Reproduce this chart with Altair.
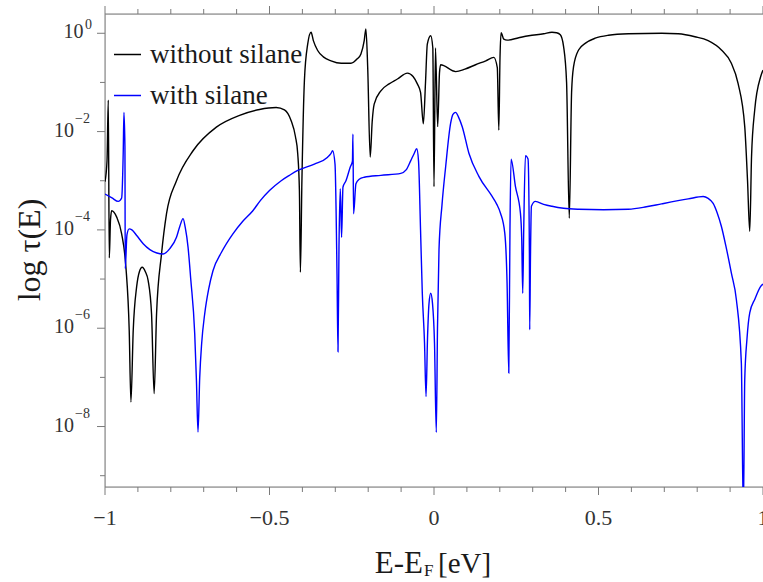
import altair as alt
import pandas as pd

# ---------------- data ----------------
series_names = ["without silane", "with silane"]
series_colors = ["#000000", "#0000ff"]

# energy E-E_F [eV] and log10 of transmission, "without silane"
E_without = [-1.0, -0.9939, -0.99, -0.987, -0.9833, -0.9797, -0.9645, -0.9494, -0.9364, -0.9264,
             -0.9212, -0.9142, -0.9039, -0.8955, -0.887, -0.8773, -0.8688, -0.8585, -0.8506, -0.8433,
             -0.8282, -0.813, -0.7827, -0.7324, -0.6615, -0.5909, -0.5303, -0.4797, -0.4545, -0.4342,
             -0.4212, -0.4142, -0.4091, -0.4061, -0.4015, -0.3939, -0.3839, -0.3736, -0.3667, -0.3536,
             -0.3364, -0.313, -0.2818, -0.2524, -0.2333, -0.2221, -0.2121, -0.207, -0.2015, -0.1939,
             -0.1879, -0.1818, -0.1615, -0.1364, -0.1112, -0.0809, -0.0636, -0.0506, -0.0409, -0.0324,
             -0.0258, -0.0203, -0.01, -0.0036, 0.0, 0.0045, 0.0112, 0.0167, 0.0203, 0.0658,
             0.0939, 0.1264, 0.1576, 0.1818, 0.1924, 0.197, 0.2006, 0.2039, 0.2121, 0.2221,
             0.2576, 0.2879, 0.3333, 0.3585, 0.3727, 0.3839, 0.3939, 0.403, 0.4112, 0.4182,
             0.4242, 0.4394, 0.4606, 0.49, 0.5303, 0.5909, 0.6918, 0.7424, 0.793, 0.8333,
             0.8736, 0.903, 0.9242, 0.9445, 0.953, 0.9597, 0.9652, 0.9748, 0.993, 1.0]
logT_without = [-3.02, -2.6, -1.36, -4.57, -3.8, -3.61, -3.74, -4.08, -4.76, -6.04,
                -7.5, -6.04, -5.16, -4.85, -4.76, -4.85, -5.03, -5.71, -7.33, -5.71,
                -4.49, -3.67, -3.0, -2.39, -1.91, -1.67, -1.55, -1.51, -1.56, -1.78,
                -2.1, -2.45, -3.2, -4.86, -3.0, -0.96, -0.22, 0.02, -0.15, -0.35,
                -0.48, -0.56, -0.61, -0.61, -0.52, -0.42, -0.15, 0.09, -0.7, -2.52,
                -1.8, -1.44, -1.17, -1.03, -0.93, -0.81, -0.88, -1.03, -1.2, -1.84,
                -1.0, -0.22, -0.05, -0.3, -3.12, -0.3, -1.9, -0.8, -0.64, -0.78,
                -0.73, -0.64, -0.56, -0.49, -0.7, -1.97, -0.5, 0.01, -0.12, -0.14,
                -0.09, -0.05, -0.01, 0.02, 0.01, -0.03, -0.27, -1.0, -3.76, -1.2,
                -0.68, -0.34, -0.2, -0.1, -0.04, -0.01, 0.0, -0.01, -0.07, -0.15,
                -0.34, -0.6, -1.02, -1.9, -3.0, -4.03, -2.5, -1.56, -0.88, -0.75]

# energy and log10 of transmission, "with silane"
E_with = [-1.0, -0.9788, -0.9597, -0.9494, -0.9445, -0.9424, -0.9394, -0.9385, -0.9333, -0.9264,
          -0.9182, -0.903, -0.8839, -0.8636, -0.8424, -0.8233, -0.803, -0.7827, -0.7727, -0.7627,
          -0.7561, -0.7476, -0.7394, -0.7273, -0.7221, -0.7173, -0.7121, -0.7061, -0.697, -0.6848,
          -0.6718, -0.6455, -0.6112, -0.5818, -0.5506, -0.5273, -0.5, -0.4645, -0.4394, -0.4142,
          -0.3636, -0.3233, -0.3136, -0.3082, -0.3009, -0.2948, -0.2918, -0.2888, -0.2848, -0.2809,
          -0.2767, -0.2676, -0.2545, -0.2479, -0.2464, -0.2445, -0.2373, -0.2273, -0.2121, -0.1615,
          -0.1009, -0.0848, -0.0706, -0.0606, -0.0524, -0.047, -0.0409, -0.0355, -0.0288, -0.0242,
          -0.0197, -0.0152, -0.01, -0.0045, 0.0015, 0.007, 0.0106, 0.0152, 0.0242, 0.0355,
          0.0506, 0.0576, 0.0658, 0.0742, 0.0858, 0.1061, 0.1364, 0.1767, 0.1909, 0.2021,
          0.2152, 0.2221, 0.2273, 0.2309, 0.2342, 0.2476, 0.2627, 0.2667, 0.2697, 0.2727,
          0.2779, 0.2858, 0.29, 0.2909, 0.2933, 0.2961, 0.3082, 0.3333, 0.3585, 0.3939,
          0.4394, 0.5152, 0.5909, 0.6455, 0.6918, 0.7727, 0.8182, 0.8333, 0.8485, 0.8606,
          0.8736, 0.8879, 0.9039, 0.9191, 0.9342, 0.9403, 0.9445, 0.9515, 0.9597, 0.9758,
          0.993, 1.0]
logT_with = [-3.27, -3.35, -3.42, -3.35, -2.39, -1.61, -2.32, -4.79, -4.1, -3.98,
             -4.0, -4.12, -4.28, -4.4, -4.47, -4.49, -4.38, -4.15, -3.93, -3.77,
             -3.95, -4.35, -5.0, -6.11, -7.06, -8.11, -7.0, -6.3, -5.71, -5.2,
             -4.83, -4.45, -4.08, -3.83, -3.61, -3.4, -3.2, -3.0, -2.89, -2.79,
             -2.66, -2.52, -2.45, -2.39, -2.66, -4.89, -6.48, -4.35, -3.16, -4.15,
             -3.13, -3.0, -2.72, -2.6, -2.05, -3.67, -3.06, -2.97, -2.93, -2.89,
             -2.85, -2.78, -2.59, -2.45, -2.35, -2.6, -4.0, -5.3, -6.3, -7.39,
             -6.2, -5.5, -5.29, -5.5, -6.3, -8.12, -6.0, -4.4, -3.5, -2.71,
             -1.83, -1.65, -1.61, -1.7, -1.9, -2.44, -2.91, -3.32, -3.48, -3.66,
             -4.07, -5.08, -6.91, -4.0, -2.56, -3.12, -3.66, -4.2, -5.29, -4.0,
             -2.49, -2.56, -4.5, -6.03, -4.5, -3.52, -3.42, -3.48, -3.52, -3.56,
             -3.58, -3.59, -3.58, -3.53, -3.47, -3.37, -3.32, -3.36, -3.46, -3.65,
             -3.93, -4.35, -4.88, -5.42, -6.71, -9.8, -7.05, -6.2, -5.69, -5.4,
             -5.15, -5.1]

# ticks and tick labels
x_major_ticks = [-1.0, -0.5, 0.0, 0.5, 1.0]
x_major_labels = ["−1", "−0.5", "0", "0.5", "1"]
x_minor_ticks = [-0.9, -0.8, -0.7, -0.6, -0.4, -0.3, -0.2, -0.1,
                 0.1, 0.2, 0.3, 0.4, 0.6, 0.7, 0.8, 0.9]
y_major_exponents = [-8, -6, -4, -2, 0]
y_major_exp_labels = ["−8", "−6", "−4", "−2", "0"]
y_minor_exponents = [-9, -7, -5, -3, -1]
y_domain_exponents = [-9.23, 0.392]

# ---------------- tables ----------------
rows = []
for name, xs, ls in [(series_names[0], E_without, logT_without),
                     (series_names[1], E_with, logT_with)]:
    for i, (e, l) in enumerate(zip(xs, ls)):
        rows.append({"series": name, "E": e, "tau": 10.0 ** l, "i": i})
df = pd.DataFrame(rows)

y_domain = [10.0 ** k for k in y_domain_exponents]
x_major_df = pd.DataFrame({"E": x_major_ticks, "lab": x_major_labels})
x_minor_df = pd.DataFrame({"E": x_minor_ticks})
y_major_df = pd.DataFrame({"tau": [10.0 ** k for k in y_major_exponents],
                           "k": y_major_exponents,
                           "base": ["10"] * len(y_major_exponents),
                           "exp": y_major_exp_labels})
y_minor_df = pd.DataFrame({"tau": [10.0 ** k for k in y_minor_exponents]})

FONT = "Liberation Serif"
AXIS_GREY = "#7a7a7a"
LABEL_COL = "#333333"
TITLE_COL = "#1a1a1a"
PLOT_W, PLOT_H = 658, 473

x_scale = alt.Scale(domain=[-1, 1], nice=False, zero=False)
y_scale = alt.Scale(type="log", domain=y_domain, nice=False)

lines = alt.Chart(df).mark_line(strokeWidth=1.4, interpolate="monotone", clip=True).encode(
    x=alt.X("E:Q", scale=x_scale, axis=None),
    y=alt.Y("tau:Q", scale=y_scale, axis=None),
    color=alt.Color(
        "series:N",
        scale=alt.Scale(domain=series_names, range=series_colors),
        legend=alt.Legend(
            title=None, orient="none", legendX=8, legendY=26, padding=0,
            symbolType="stroke", symbolSize=729, symbolStrokeWidth=1.5,
            labelFont=FONT, labelFontSize=27, labelColor=TITLE_COL,
            labelOffset=8, rowPadding=13, labelLimit=400,
        ),
    ),
    order="i:Q",
)

rule_style = dict(color=AXIS_GREY, strokeWidth=1)
one = alt.Data(values=[{"k": 0}])

# frame lines (left, bottom, top)
frame_left = alt.Chart(one).mark_rule(**rule_style).encode(
    x=alt.value(0), y=alt.value(0), y2=alt.value(PLOT_H))
frame_bottom = alt.Chart(one).mark_rule(**rule_style).encode(
    x=alt.value(0), x2=alt.value(PLOT_W), y=alt.value(PLOT_H))
frame_top = alt.Chart(one).mark_rule(**rule_style).encode(
    x=alt.value(0), x2=alt.value(PLOT_W), y=alt.value(0))

# ticks
maj_bottom = alt.Chart(x_major_df).mark_rule(**rule_style).encode(
    x=alt.X("E:Q", scale=x_scale, axis=None), y=alt.value(PLOT_H), y2=alt.value(PLOT_H + 8))
min_bottom = alt.Chart(x_minor_df).mark_rule(**rule_style).encode(
    x=alt.X("E:Q", scale=x_scale, axis=None), y=alt.value(PLOT_H), y2=alt.value(PLOT_H + 5))
maj_top = alt.Chart(x_major_df).mark_rule(**rule_style).encode(
    x=alt.X("E:Q", scale=x_scale, axis=None), y=alt.value(-8), y2=alt.value(0))
min_top = alt.Chart(x_minor_df).mark_rule(**rule_style).encode(
    x=alt.X("E:Q", scale=x_scale, axis=None), y=alt.value(-5), y2=alt.value(0))
maj_left = alt.Chart(y_major_df).mark_rule(**rule_style).encode(
    y=alt.Y("tau:Q", scale=y_scale, axis=None), x=alt.value(-8), x2=alt.value(0))
min_left = alt.Chart(y_minor_df).mark_rule(**rule_style).encode(
    y=alt.Y("tau:Q", scale=y_scale, axis=None), x=alt.value(-5), x2=alt.value(0))

# tick labels
x_labels = alt.Chart(x_major_df).mark_text(
    font=FONT, fontSize=22, color=LABEL_COL, align="center", baseline="alphabetic"
).encode(x=alt.X("E:Q", scale=x_scale, axis=None), y=alt.value(PLOT_H + 38), text="lab:N")

base_style = dict(font=FONT, fontSize=20, color=LABEL_COL, align="right", baseline="alphabetic", dy=5)
exp_style = dict(font=FONT, fontSize=14, color=LABEL_COL, align="left", baseline="alphabetic")
y_base_neg = alt.Chart(y_major_df).transform_filter("datum.k < 0").mark_text(**base_style).encode(
    y=alt.Y("tau:Q", scale=y_scale, axis=None), x=alt.value(-31), text="base:N")
y_exp_neg = alt.Chart(y_major_df).transform_filter("datum.k < 0").mark_text(dy=-9, **exp_style).encode(
    y=alt.Y("tau:Q", scale=y_scale, axis=None), x=alt.value(-30), text="exp:N")
y_base_zero = alt.Chart(y_major_df).transform_filter("datum.k == 0").mark_text(**base_style).encode(
    y=alt.Y("tau:Q", scale=y_scale, axis=None), x=alt.value(-21.5), text="base:N")
y_exp_zero = alt.Chart(y_major_df).transform_filter("datum.k == 0").mark_text(dy=-4, **exp_style).encode(
    y=alt.Y("tau:Q", scale=y_scale, axis=None), x=alt.value(-20), text="exp:N")

# axis titles
y_title = alt.Chart(alt.Data(values=[{"t": "log τ(E)"}])).mark_text(
    font=FONT, fontSize=32, color=TITLE_COL, align="center", baseline="alphabetic", angle=270
).encode(text="t:N", x=alt.value(-65), y=alt.value(236))

title_parts = [("E-E", 318, 559, 31, "right"), ("F", 319, 562, 17, "left"), ("[eV]", 333, 559, 29, "left")]
title_layers = []
for txt, tx, ty, fs, al in title_parts:
    title_layers.append(
        alt.Chart(alt.Data(values=[{"t": txt}])).mark_text(
            font=FONT, fontSize=fs, align=al, baseline="alphabetic", color=TITLE_COL
        ).encode(text="t:N", x=alt.value(tx), y=alt.value(ty))
    )

chart = alt.layer(
    frame_left, frame_bottom, frame_top,
    maj_bottom, min_bottom, maj_top, min_top, maj_left, min_left,
    x_labels, y_base_neg, y_exp_neg, y_base_zero, y_exp_zero, y_title, *title_layers, lines,
).properties(
    width=PLOT_W, height=PLOT_H,
    padding={"left": 105, "top": 14, "right": 0, "bottom": 95},
    autosize=alt.AutoSizeParams(type="none"),
).configure_view(strokeOpacity=0).configure(background="white")

chart.save("out.html", embed_options={"renderer": "svg", "actions": False})
